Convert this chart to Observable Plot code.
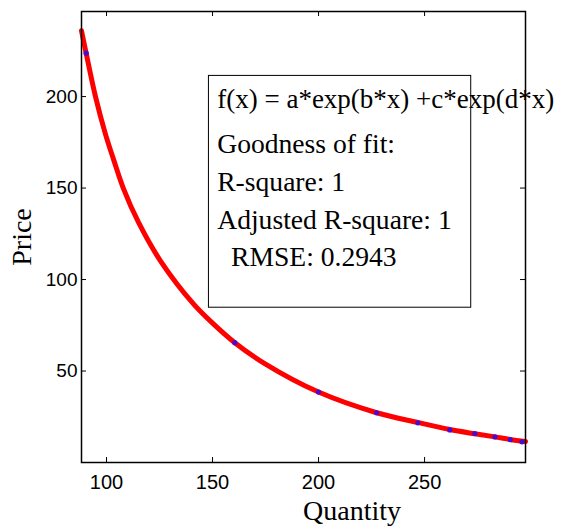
<!DOCTYPE html>
<html>
<head>
<meta charset="utf-8">
<script src="https://cdn.jsdelivr.net/npm/d3@7"></script>
<script src="https://cdn.jsdelivr.net/npm/@observablehq/plot@0.6"></script>
<style>
  html, body { margin: 0; padding: 0; background: #fff; }
  svg { display: block; }
</style>
</head>
<body>
<div id="chart"></div>
<script>
// Fitted curve
const fitQuantity = [88.2, 90.4, 94.8, 99.5, 103.5, 107.9, 115.1, 125.5, 141.2, 150, 160.5, 175, 200, 227.4, 246.8, 261.9, 273.7, 283.2, 290.4, 297.6];
const fitPrice    = [236, 223.7, 200, 179.5, 165, 150, 131.2, 110.1, 86.4, 76.2, 65.5, 53.8, 38.5, 27.2, 21.9, 18.0, 15.7, 14.0, 12.6, 11.5];

// Observed data points
const obsQuantity = [90.4, 160.5, 200, 227.4, 246.8, 261.9, 273.7, 283.2, 290.4, 295.9];
const obsPrice    = [223.7, 65.5, 38.5, 27.2, 21.7, 17.8, 15.8, 14.0, 12.5, 11.3];

const xTicks = [100, 150, 200, 250];
const yTicks = [50, 100, 150, 200];

const annotationTitle = "f(x) = a*exp(b*x) +c*exp(d*x)";
const annotationLines = [
  "Goodness of fit:",
  "R-square: 1",
  "Adjusted R-square: 1",
  "\u00a0\u00a0RMSE: 0.2943"
];
// annotation box extent, in data units
const boxQuantity = [148.3, 272.0];
const boxPrice = [84.6, 211.3];

const fit = fitQuantity.map((q, i) => ({q, p: fitPrice[i]}));
const obs = obsQuantity.map((q, i) => ({q, p: obsPrice[i]}));

const W = 564, H = 529;
const mL = 81, mR = 39, mT = 11, mB = 67;
const innerW = W - mL - mR, innerH = H - mT - mB;
const serif = "'Liberation Serif', 'Times New Roman', serif";

const chart = Plot.plot({
  width: W,
  height: H,
  marginLeft: mL,
  marginRight: mR,
  marginTop: mT,
  marginBottom: mB,
  style: {fontFamily: "'Liberation Sans', Arial, sans-serif", fontSize: "20px", background: "#fff", color: "#000", overflow: "visible"},
  x: {domain: [88.2, 297.6]},
  y: {domain: [0, 246.5]},
  marks: [
    Plot.line(fit, {x: "q", y: "p", stroke: "#ff0000", strokeWidth: 5, curve: "catmull-rom"}),
    Plot.dot(obs, {x: "q", y: "p", r: 2.6, fill: "#4a0ccc", stroke: "none"}),
    Plot.rect([{}], {x1: () => boxQuantity[0], x2: () => boxQuantity[1], y1: () => boxPrice[0], y2: () => boxPrice[1], fill: "none", stroke: "#000", strokeWidth: 1}),
    Plot.text([annotationTitle], {
      text: d => d, frameAnchor: "top-left", textAnchor: "start", lineAnchor: "top",
      dx: 135.7, dy: 77.5, fontSize: 27, fontFamily: serif, fill: "#000"
    }),
    Plot.text([annotationLines.join("\n")], {
      text: d => d, frameAnchor: "top-left", textAnchor: "start", lineAnchor: "top",
      dx: 135.7, dy: 115, lineHeight: 1.366, fontSize: 27.6, fontFamily: serif, fill: "#000"
    }),
    Plot.frame({stroke: "#000", strokeWidth: 1.5}),
    // inward ticks on all four sides
    Plot.tickX(xTicks, {x: d => d, insetTop: innerH - 5, stroke: "#000", strokeWidth: 1}),
    Plot.tickX(xTicks, {x: d => d, insetBottom: innerH - 5, stroke: "#000", strokeWidth: 1}),
    Plot.tickY(yTicks, {y: d => d, insetRight: innerW - 5, stroke: "#000", strokeWidth: 1}),
    Plot.tickY(yTicks, {y: d => d, insetLeft: innerW - 5, stroke: "#000", strokeWidth: 1}),
    Plot.axisX(xTicks, {anchor: "bottom", tickSize: 0, tickPadding: 12, label: null, fontSize: 20}),
    Plot.axisY(yTicks, {anchor: "left", tickSize: 0, tickPadding: 4, label: null, fontSize: 19}),
    Plot.text(["Quantity"], {text: d => d, frameAnchor: "bottom", textAnchor: "middle", lineAnchor: "bottom", dx: 48.5, dy: 57, fontSize: 28, fontFamily: serif, fill: "#000"}),
    Plot.text(["Price"], {text: d => d, frameAnchor: "left", textAnchor: "middle", lineAnchor: "bottom", rotate: -90, dx: -51, fontSize: 28, fontFamily: serif, fill: "#000"})
  ]
});
document.getElementById("chart").appendChild(chart);
</script>
</body>
</html>
